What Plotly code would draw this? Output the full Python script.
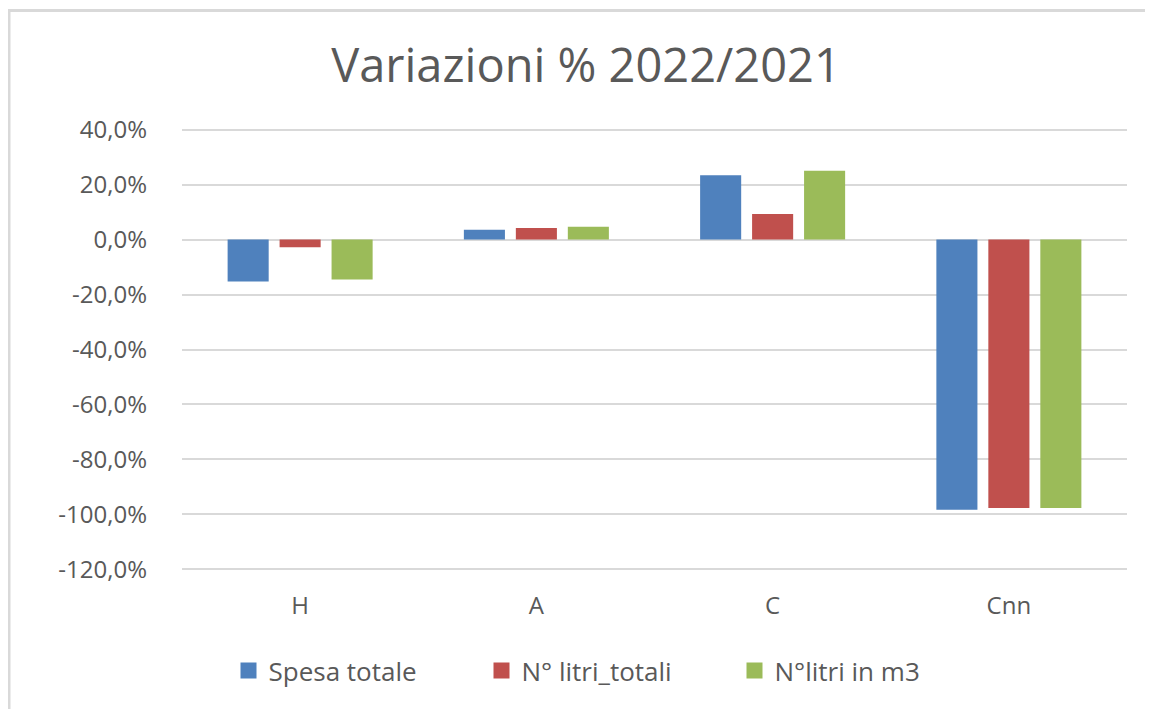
import plotly.graph_objects as go

categories = ["H", "A", "C", "Cnn"]
series_names = ["Spesa totale", "N° litri_totali", "N°litri in m3"]
spesa_totale = [-15.3, 3.6, 23.4, -98.3]
litri_totali = [-2.8, 4.2, 9.3, -97.7]
litri_m3 = [-14.5, 4.7, 25.0, -97.7]
colors = ["#4F81BD", "#C0504D", "#9BBB59"]
tick_vals = [40, 20, 0, -20, -40, -60, -80, -100, -120]
tick_text = ["40,0%", "20,0%", "0,0%", "-20,0%", "-40,0%", "-60,0%", "-80,0%", "-100,0%", "-120,0%"]

FONT = "Open Sans"
GREY = "#595959"

fig = go.Figure()
for name, vals, col in zip(series_names, [spesa_totale, litri_totali, litri_m3], colors):
    fig.add_trace(go.Bar(name=name, x=categories, y=vals, showlegend=False,
                         marker=dict(color=col, line=dict(width=0))))
# legend entries with larger square symbols
for name, col in zip(series_names, colors):
    fig.add_trace(go.Scatter(name=name, x=[None], y=[None], mode="markers",
                             marker=dict(symbol="square", size=17, color=col), showlegend=True))

W, H = 1145, 701
L, R, T, B = 174, 26, 120.4, 138.4
pw, ph = W - L - R, H - T - B

fig.update_layout(
    width=W, height=H,
    margin=dict(l=L, r=R, t=T, b=B, autoexpand=False),
    paper_bgcolor="white", plot_bgcolor="white",
    barmode="group", bargap=0.34, bargroupgap=0.21,
    font=dict(family=FONT, color=GREY),
    title=dict(text="Variazioni % 2022/2021", x=578 / W, xanchor="center",
               y=1 - 58 / H, yanchor="middle", yref="container",
               font=dict(size=47, color=GREY, family=FONT)),
    legend=dict(orientation="h", x=(600 - L) / pw, xanchor="center",
                y=(H - B - 662) / ph, yanchor="middle",
                font=dict(size=26, color=GREY), itemwidth=30, traceorder="normal",
                entrywidth=208, entrywidthmode="pixels"),
    showlegend=True,
)
fig.update_yaxes(range=[-120.6, 40.6], tickvals=tick_vals, ticktext=tick_text,
                 showgrid=True, gridcolor="#d9d9d9", gridwidth=2,
                 zeroline=True, zerolinecolor="#d9d9d9", zerolinewidth=2,
                 showline=False, ticks="", ticklabelstandoff=34,
                 tickfont=dict(size=24, color=GREY))
fig.update_xaxes(showgrid=False, showline=False, ticks="", ticklabelstandoff=18,
                 tickfont=dict(size=24, color=GREY))

# outer chart border
fig.add_shape(type="rect", xref="paper", yref="paper",
              x0=(1 - L) / pw, x1=(W + 20 - L) / pw,
              y0=(H - B - (H + 20)) / ph, y1=(H - B - 3) / ph,
              line=dict(color="#d9d9d9", width=3), fillcolor="rgba(0,0,0,0)", layer="below")

fig.write_html("out.html")
